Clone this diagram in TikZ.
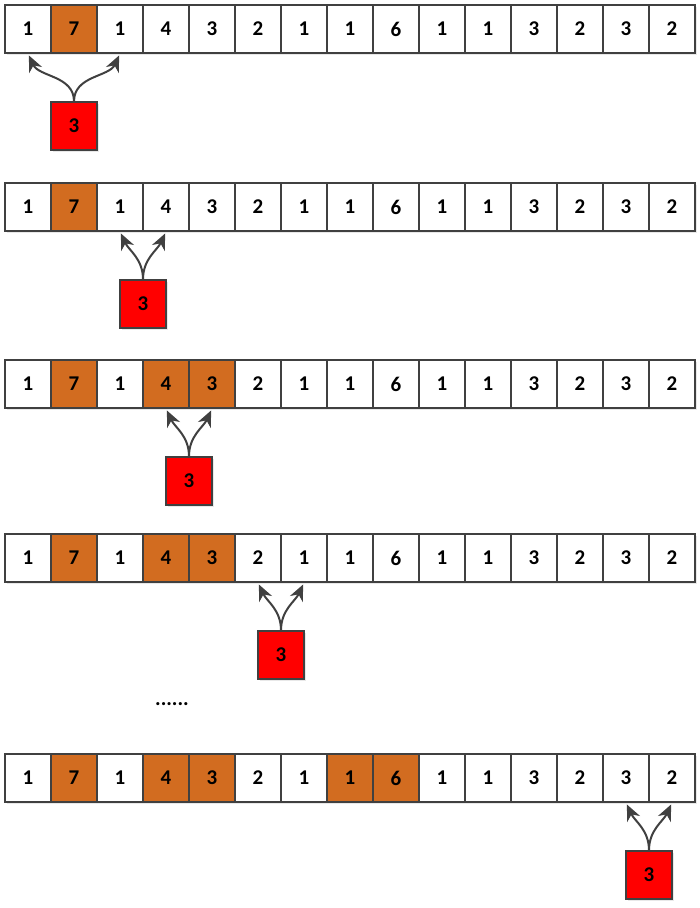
\documentclass[tikz,border=0pt]{standalone}
\usepackage{fontspec}
\setmainfont{Carlito}
\usetikzlibrary{arrows.meta, positioning, shadows, calc}

\definecolor{hot}{RGB}{210,108,32}
\definecolor{edgegray}{RGB}{64,64,64}

\begin{document}
\begin{tikzpicture}[x=1pt, y=-1pt, node distance=46pt, on grid]
    \tikzset{
        cell/.style={draw=edgegray, line width=1.2pt, minimum width=46pt, minimum height=48pt,
            inner sep=0pt, font=\fontsize{21}{24}\selectfont\bfseries,
            drop shadow={shadow xshift=1.5pt, shadow yshift=-2pt, fill=black!18}},
        key/.style={cell, fill=red},
        jump/.style={draw=edgegray, line width=2pt, shorten >=2pt,
            -{Stealth[length=16pt, width=14pt, inset=5pt]}}
    }

    \useasboundingbox (0,0) rectangle (700,908);

    % row 1
    \foreach \v/\f [count=\i] in {1/white,7/hot,1/white,4/white,3/white,2/white,1/white,1/white,
        6/white,1/white,1/white,3/white,2/white,3/white,2/white}
        \node[cell, fill=\f] (a\i) at ({5+46*\i-23}, 29) {\v};
    \node[key, below=97pt of a2] (k_a) {3};

    % row 2
    \foreach \v/\f [count=\i] in {1/white,7/hot,1/white,4/white,3/white,2/white,1/white,1/white,
        6/white,1/white,1/white,3/white,2/white,3/white,2/white}
        \node[cell, fill=\f] (b\i) at ({5+46*\i-23}, 207) {\v};
    \node[key] (k_b) at ($(b3)!0.5!(b4)+(0,97)$) {3};

    % row 3
    \foreach \v/\f [count=\i] in {1/white,7/hot,1/white,4/hot,3/hot,2/white,1/white,1/white,
        6/white,1/white,1/white,3/white,2/white,3/white,2/white}
        \node[cell, fill=\f] (c\i) at ({5+46*\i-23}, 384) {\v};
    \node[key] (k_c) at ($(c4)!0.5!(c5)+(0,97)$) {3};

    % row 4
    \foreach \v/\f [count=\i] in {1/white,7/hot,1/white,4/hot,3/hot,2/white,1/white,1/white,
        6/white,1/white,1/white,3/white,2/white,3/white,2/white}
        \node[cell, fill=\f] (d\i) at ({5+46*\i-23}, 558) {\v};
    \node[key] (k_d) at ($(d6)!0.5!(d7)+(0,97)$) {3};

    \node[font=\fontsize{21}{24}\selectfont\bfseries] (dots) at (172,704) {......};

    % row 5
    \foreach \v/\f [count=\i] in {1/white,7/hot,1/white,4/hot,3/hot,2/white,1/white,1/hot,
        6/hot,1/white,1/white,3/white,2/white,3/white,2/white}
        \node[cell, fill=\f] (e\i) at ({5+46*\i-23}, 778) {\v};
    \node[key] (k_e) at ($(e14)!0.5!(e15)+(0,97)$) {3};

    \draw[jump] (k_a.north) to[out=90, in=-65] (a1.south);
    \draw[jump] (k_a.north) to[out=90, in=-115] (a3.south);
    \draw[jump] (k_b.north) to[out=90, in=-65] (b3.south);
    \draw[jump] (k_b.north) to[out=90, in=-115] (b4.south);
    \draw[jump] (k_c.north) to[out=90, in=-65] (c4.south);
    \draw[jump] (k_c.north) to[out=90, in=-115] (c5.south);
    \draw[jump] (k_d.north) to[out=90, in=-65] (d6.south);
    \draw[jump] (k_d.north) to[out=90, in=-115] (d7.south);
    \draw[jump] (k_e.north) to[out=90, in=-65] (e14.south);
    \draw[jump] (k_e.north) to[out=90, in=-115] (e15.south);
\end{tikzpicture}
\end{document}
